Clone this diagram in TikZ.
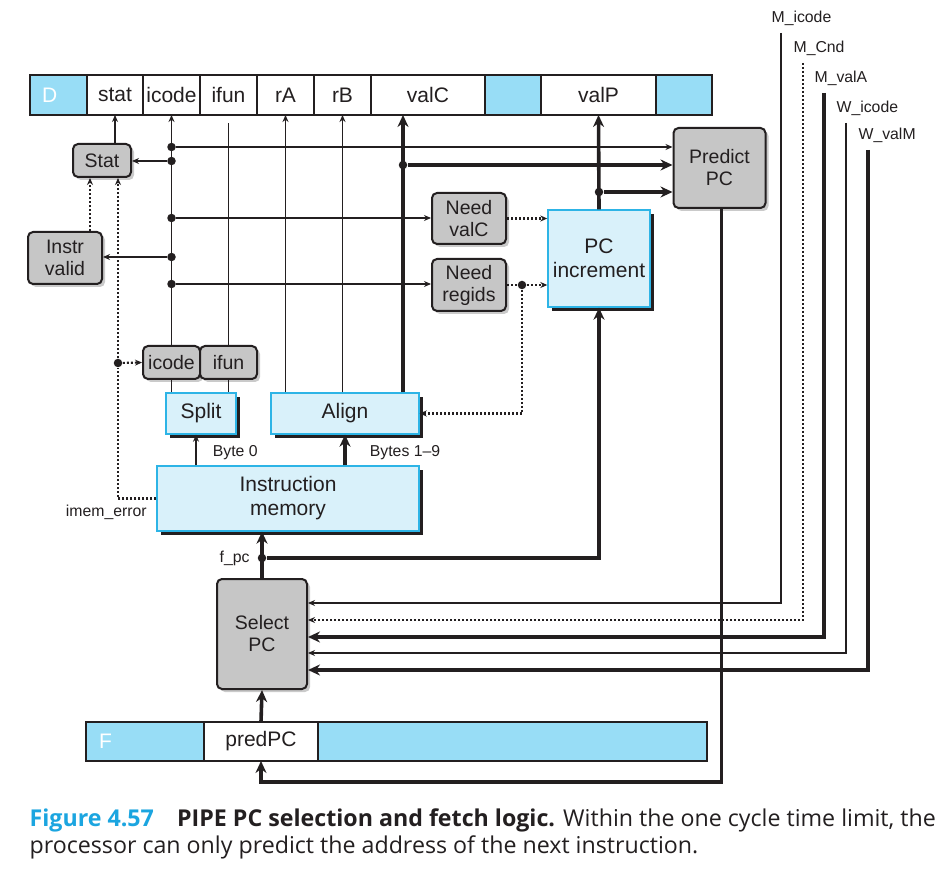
\documentclass[tikz,border=0pt]{standalone}
\usepackage{fontspec}
\setmainfont{Liberation Sans}
\newfontfamily\capfont{Open Sans}
\usepackage{xcolor}
\definecolor{wire}{HTML}{231F20}
\definecolor{regblue}{HTML}{98DDF6}
\definecolor{unitfill}{HTML}{D9F1FA}
\definecolor{unitline}{HTML}{2DB4E6}
\definecolor{boxgray}{HTML}{C6C6C6}
\definecolor{shadowgray}{HTML}{CACACA}
\definecolor{capblue}{HTML}{1BA5E0}
\usepackage{tikz}
\usetikzlibrary{positioning,shadows,arrows.meta}

\begin{document}
\begin{tikzpicture}[x=1pt, y=-1pt, color=wire, line width=1.2pt,
	>={Stealth[length=7pt,width=6pt]},
	cell/.style={rectangle, draw=wire, line width=2.4pt, fill=white, inner sep=0pt,
		outer sep=0pt, minimum height=40pt, font=\fontsize{21pt}{24pt}\selectfont},
	bluecell/.style={cell, fill=regblue, text=white, align=left},
	ctrlbox/.style={rectangle, rounded corners=5pt, draw=wire, line width=2pt,
		fill=boxgray, align=center, inner sep=0pt,
		font=\fontsize{19.5pt}{22pt}\selectfont,
		drop shadow={shadow xshift=3pt, shadow yshift=-3pt, fill=shadowgray, opacity=1}},
	unitbox/.style={rectangle, draw=unitline, line width=1.4pt, fill=unitfill,
		align=center, inner sep=0pt, font=\fontsize{21pt}{24pt}\selectfont,
		drop shadow={shadow xshift=4pt, shadow yshift=-4pt, fill=wire, opacity=1}},
	siglabel/.style={inner sep=0pt, font=\fontsize{15.8pt}{18pt}\selectfont},
	captext/.style={inner sep=0pt, font=\capfont\fontsize{23.2pt}{27pt}\selectfont},
	buswire/.style={line width=3.6pt, >={Stealth[length=12pt,width=11pt]}},
	ctlwire/.style={line width=2.2pt, dash pattern=on 2pt off 2pt},
	tap/.style={circle, fill=wire, inner sep=0pt, minimum size=8.5pt}]
	\fill[white] (0,0) rectangle (951,882);
	\useasboundingbox (0,0) rectangle (951,882);

	\node (D) [bluecell, minimum width=57pt, text width=33pt, inner xsep=12pt, anchor=north west] at (30,75) {D};
	\node (stat) [cell, minimum width=56pt, right=0pt of D.east, anchor=west] {stat};
	\node (icode) [cell, minimum width=57pt, right=0pt of stat.east, anchor=west] {icode};
	\node (ifun) [cell, minimum width=57pt, right=0pt of icode.east, anchor=west] {ifun};
	\node (rA) [cell, minimum width=57pt, right=0pt of ifun.east, anchor=west] {rA};
	\node (rB) [cell, minimum width=57pt, right=0pt of rA.east, anchor=west] {rB};
	\node (valC) [cell, minimum width=114pt, right=0pt of rB.east, anchor=west] {valC};
	\node (DD) [cell, fill=regblue, minimum width=56pt, right=0pt of valC.east, anchor=west] {};
	\node (valP) [cell, minimum width=115pt, right=0pt of DD.east, anchor=west] {valP};
	\node (DDD) [cell, fill=regblue, minimum width=56pt, right=0pt of valP.east, anchor=west] {};

	\node (F) [bluecell, minimum width=118pt, minimum height=39pt, text width=92pt, inner xsep=13pt, anchor=north west] at (86,722) {F};
	\node (predPC) [cell, minimum width=114pt, minimum height=39pt, right=0pt of F.east, anchor=west] {predPC};
	\node (FF) [cell, fill=regblue, minimum width=389pt, minimum height=39pt, right=0pt of predPC.east, anchor=west] {};

	\node (statbox) [ctrlbox, minimum width=58pt, minimum height=33pt] at (102,160.5) {Stat};
	\node (instr) [ctrlbox, minimum width=74pt, minimum height=52pt] at (65,258) {Instr\\valid};
	\node (needC) [ctrlbox, minimum width=74pt, minimum height=51pt] at (469,218.5) {Need\\valC};
	\node (needR) [ctrlbox, minimum width=74pt, minimum height=52pt] at (469,285) {Need\\regids};
	\node (predict) [ctrlbox, minimum width=92pt, minimum height=80pt] at (719.5,168) {Predict\\PC};
	\node (select) [ctrlbox, minimum width=90pt, minimum height=110pt] at (262,634) {Select\\PC};
	\node (icodeS) [ctrlbox, minimum width=57pt, minimum height=33pt] at (171.5,362.5) {icode};
	\node (ifunS) [ctrlbox, minimum width=57pt, minimum height=33pt] at (228.5,362.5) {ifun};
	\node (splitbox) [unitbox, minimum width=70pt, minimum height=41pt] at (201,413.5) {Split};
	\node (alignbox) [unitbox, minimum width=148pt, minimum height=41pt] at (345,413.5) {Align};
	\node (imem) [unitbox, minimum width=262pt, minimum height=65pt] at (288,498.5) {Instruction\\memory};
	\node (pcinc) [unitbox, minimum width=102pt, minimum height=97pt] at (599,258.5) {PC\\increment};

	\node (t1) [tap] at (171.5,147) {};
	\node (t2) [tap] at (171.5,161) {};
	\node (t3) [tap] at (171.5,218) {};
	\node (t4) [tap] at (171.5,257) {};
	\node (t5) [tap] at (171.5,284) {};
	\node (tc) [tap] at (403,165) {};
	\node (tp) [tap] at (599,192) {};
	\node (tr) [tap] at (522,285) {};
	\node (te) [tap] at (118,363) {};
	\node (tf) [tap] at (262,558) {};

	\draw[->] (icodeS.north) -- (icode.south);
	\draw (ifunS.north) -- ([yshift=-8pt]ifun.south);
	\draw (icodeS.south) -- (icodeS.south |- splitbox.north);
	\draw (ifunS.south) -- (ifunS.south |- splitbox.north);
	\draw[->] (alignbox.north -| rA.south) -- (rA.south);
	\draw[->] (alignbox.north -| rB.south) -- (rB.south);
	\draw[buswire,->] (alignbox.north -| tc) -- (valC.south -| tc);
	\draw[->, line width=1.8pt] (statbox.north -| stat.south) -- (stat.south);

	\draw[->] (t1) -- (t1 -| predict.west);
	\draw[->] (t2) -- (t2 -| statbox.east);
	\draw[->] (t3) -- (t3 -| needC.west);
	\draw[->] (t4) -- (t4 -| instr.east);
	\draw[->] (t5) -- (t5 -| needR.west);
	\draw[buswire,->] (tc) -- (tc -| predict.west);
	\draw[buswire,->] (tp) -- (tp -| predict.west);
	\draw[buswire,->] (pcinc.north) -- (valP.south);

	\draw[ctlwire,->] (needC.east) -- (needC.east -| pcinc.west);
	\draw[ctlwire,->] (needR.east) -- (needR.east -| pcinc.west);
	\draw[ctlwire,->] (tr) |- (alignbox.east);
	\draw[ctlwire,->] ([xshift=25pt]instr.north) -- ([xshift=25pt]instr.north |- statbox.south);
	\draw[ctlwire,->] (imem.west) -| (te) -- (te |- statbox.south);
	\draw[ctlwire,->] (te) -- (icodeS.west);

	\draw[->] ([xshift=-5pt]splitbox.south |- imem.north) -- ([xshift=-5pt]splitbox.south);
	\draw[buswire,->] (alignbox.south |- imem.north) -- (alignbox.south);
	\draw[buswire,->] (select.north) -- (select.north |- imem.south);
	\draw[buswire,->] (tf) -| (pcinc.south);
	\draw[buswire,->] (predPC.north) -- (select.south);
	\draw[buswire,->] ([xshift=2pt]predict.south) |- ([yshift=-21pt]predPC.south) -- (predPC.south);

	\coordinate (mic) at (781,33);
	\coordinate (mcnd) at (803,63);
	\coordinate (mva) at (824,93);
	\coordinate (wic) at (846,123);
	\coordinate (wvm) at (868,150);
	\node (micl) [siglabel, above right=6.5pt and -10pt of mic] {M\_icode};
	\node (mcndl) [siglabel, above right=6.5pt and -10pt of mcnd] {M\_Cnd};
	\node (mval) [siglabel, above right=6.5pt and -10pt of mva] {M\_valA};
	\node (wicl) [siglabel, above right=6.5pt and -10pt of wic] {W\_icode};
	\node (wvml) [siglabel, above right=6.5pt and -10pt of wvm] {W\_valM};
	\draw[->] (mic) |- ([yshift=31pt]select.east);
	\draw[ctlwire,->] (mcnd) |- ([yshift=14pt]select.east);
	\draw[buswire,->] (mva) |- ([yshift=-3pt]select.east);
	\draw[->] (wic) |- ([yshift=-19pt]select.east);
	\draw[buswire,->] (wvm) |- ([yshift=-36pt]select.east);

	\node (ierr) [siglabel, below left=5.5pt and 9pt of imem.west] {imem\_error};
	\node (b0) [siglabel, above right=4.5pt and 56pt of imem.north west] {Byte 0};
	\node (b19) [siglabel, above right=4.5pt and 213pt of imem.north west] {Bytes 1\textendash 9};
	\node (fpc) [siglabel, left=7pt of tf] {f\_pc};

	\node (cap1) [captext, anchor=base west] at (29,826) {{\color{capblue}\bfseries Figure 4.57}\hspace{1em}{\bfseries PIPE PC selection and fetch logic.} Within the one cycle time limit, the};
	\node (cap2) [captext, anchor=base west] at (29,853) {processor can only predict the address of the next instruction.};
\end{tikzpicture}
\end{document}
